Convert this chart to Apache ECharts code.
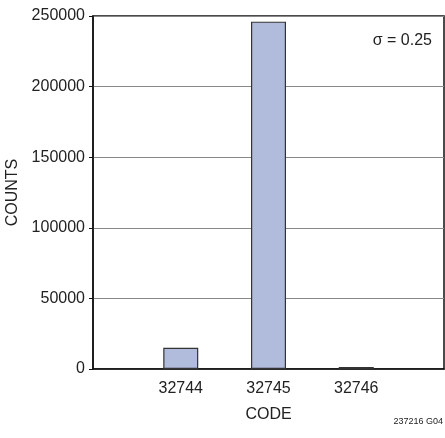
<!DOCTYPE html>
<html>
<head>
<meta charset="utf-8">
<script src="https://cdn.jsdelivr.net/npm/echarts@6/dist/echarts.min.js"></script>
<style>html,body{margin:0;padding:0;background:#fff}#c{width:445px;height:438px}</style>
</head>
<body>
<div id="c"></div>
<script>
const categories = ['', '32744', '32745', '32746', ''];
const counts = [null, 15000, 246000, 1400, null];
const yTicks = [0, 50000, 100000, 150000, 200000, 250000];
const FONT = '"Liberation Sans Narrow", "Liberation Sans", sans-serif';

const chart = echarts.init(document.getElementById('c'), null, {renderer: 'canvas'});
chart.setOption({
  animation: false,
  grid: {left: 93, right: 1, top: 16, bottom: 69, containLabel: false, outerBoundsMode: 'none', show: true, borderColor: '#111', borderWidth: 1.5, backgroundColor: 'transparent'},
  xAxis: {
    type: 'category', data: categories, boundaryGap: false,
    name: 'CODE', nameLocation: 'middle', nameGap: 38,
    nameTextStyle: {fontFamily: FONT, fontSize: 16, color: '#222'},
    axisLine: {lineStyle: {color: '#111', width: 1.5}},
    axisTick: {show: false},
    axisLabel: {fontFamily: FONT, fontSize: 16, color: '#222', margin: 12, interval: 0},
    splitLine: {show: false}
  },
  yAxis: {
    type: 'value', min: yTicks[0], max: yTicks[yTicks.length - 1], interval: yTicks[1] - yTicks[0],
    name: 'COUNTS', nameLocation: 'middle', nameGap: 65, nameRotate: 90,
    nameTextStyle: {fontFamily: FONT, fontSize: 16, color: '#222'},
    axisLine: {show: true, lineStyle: {color: '#111', width: 1.5}},
    axisTick: {show: true, length: 4, lineStyle: {color: '#111'}},
    axisLabel: {fontFamily: FONT, fontSize: 16, color: '#222', margin: 8, formatter: v => String(v)},
    splitLine: {show: true, lineStyle: {color: '#888', width: 1}}
  },
  series: [{
    type: 'bar', data: counts, barWidth: 35,
    itemStyle: {color: '#b1bbdc', borderColor: '#333', borderWidth: 1.2}
  }],
  graphic: [
    {type: 'text', right: 13, top: 33, style: {text: 'σ = 0.25', font: '16px ' + FONT, fill: '#222'}},
    {type: 'text', right: 2, top: 417, style: {text: '237216 G04', font: '9px ' + FONT, fill: '#222'}}
  ]
});
</script>
</body>
</html>
